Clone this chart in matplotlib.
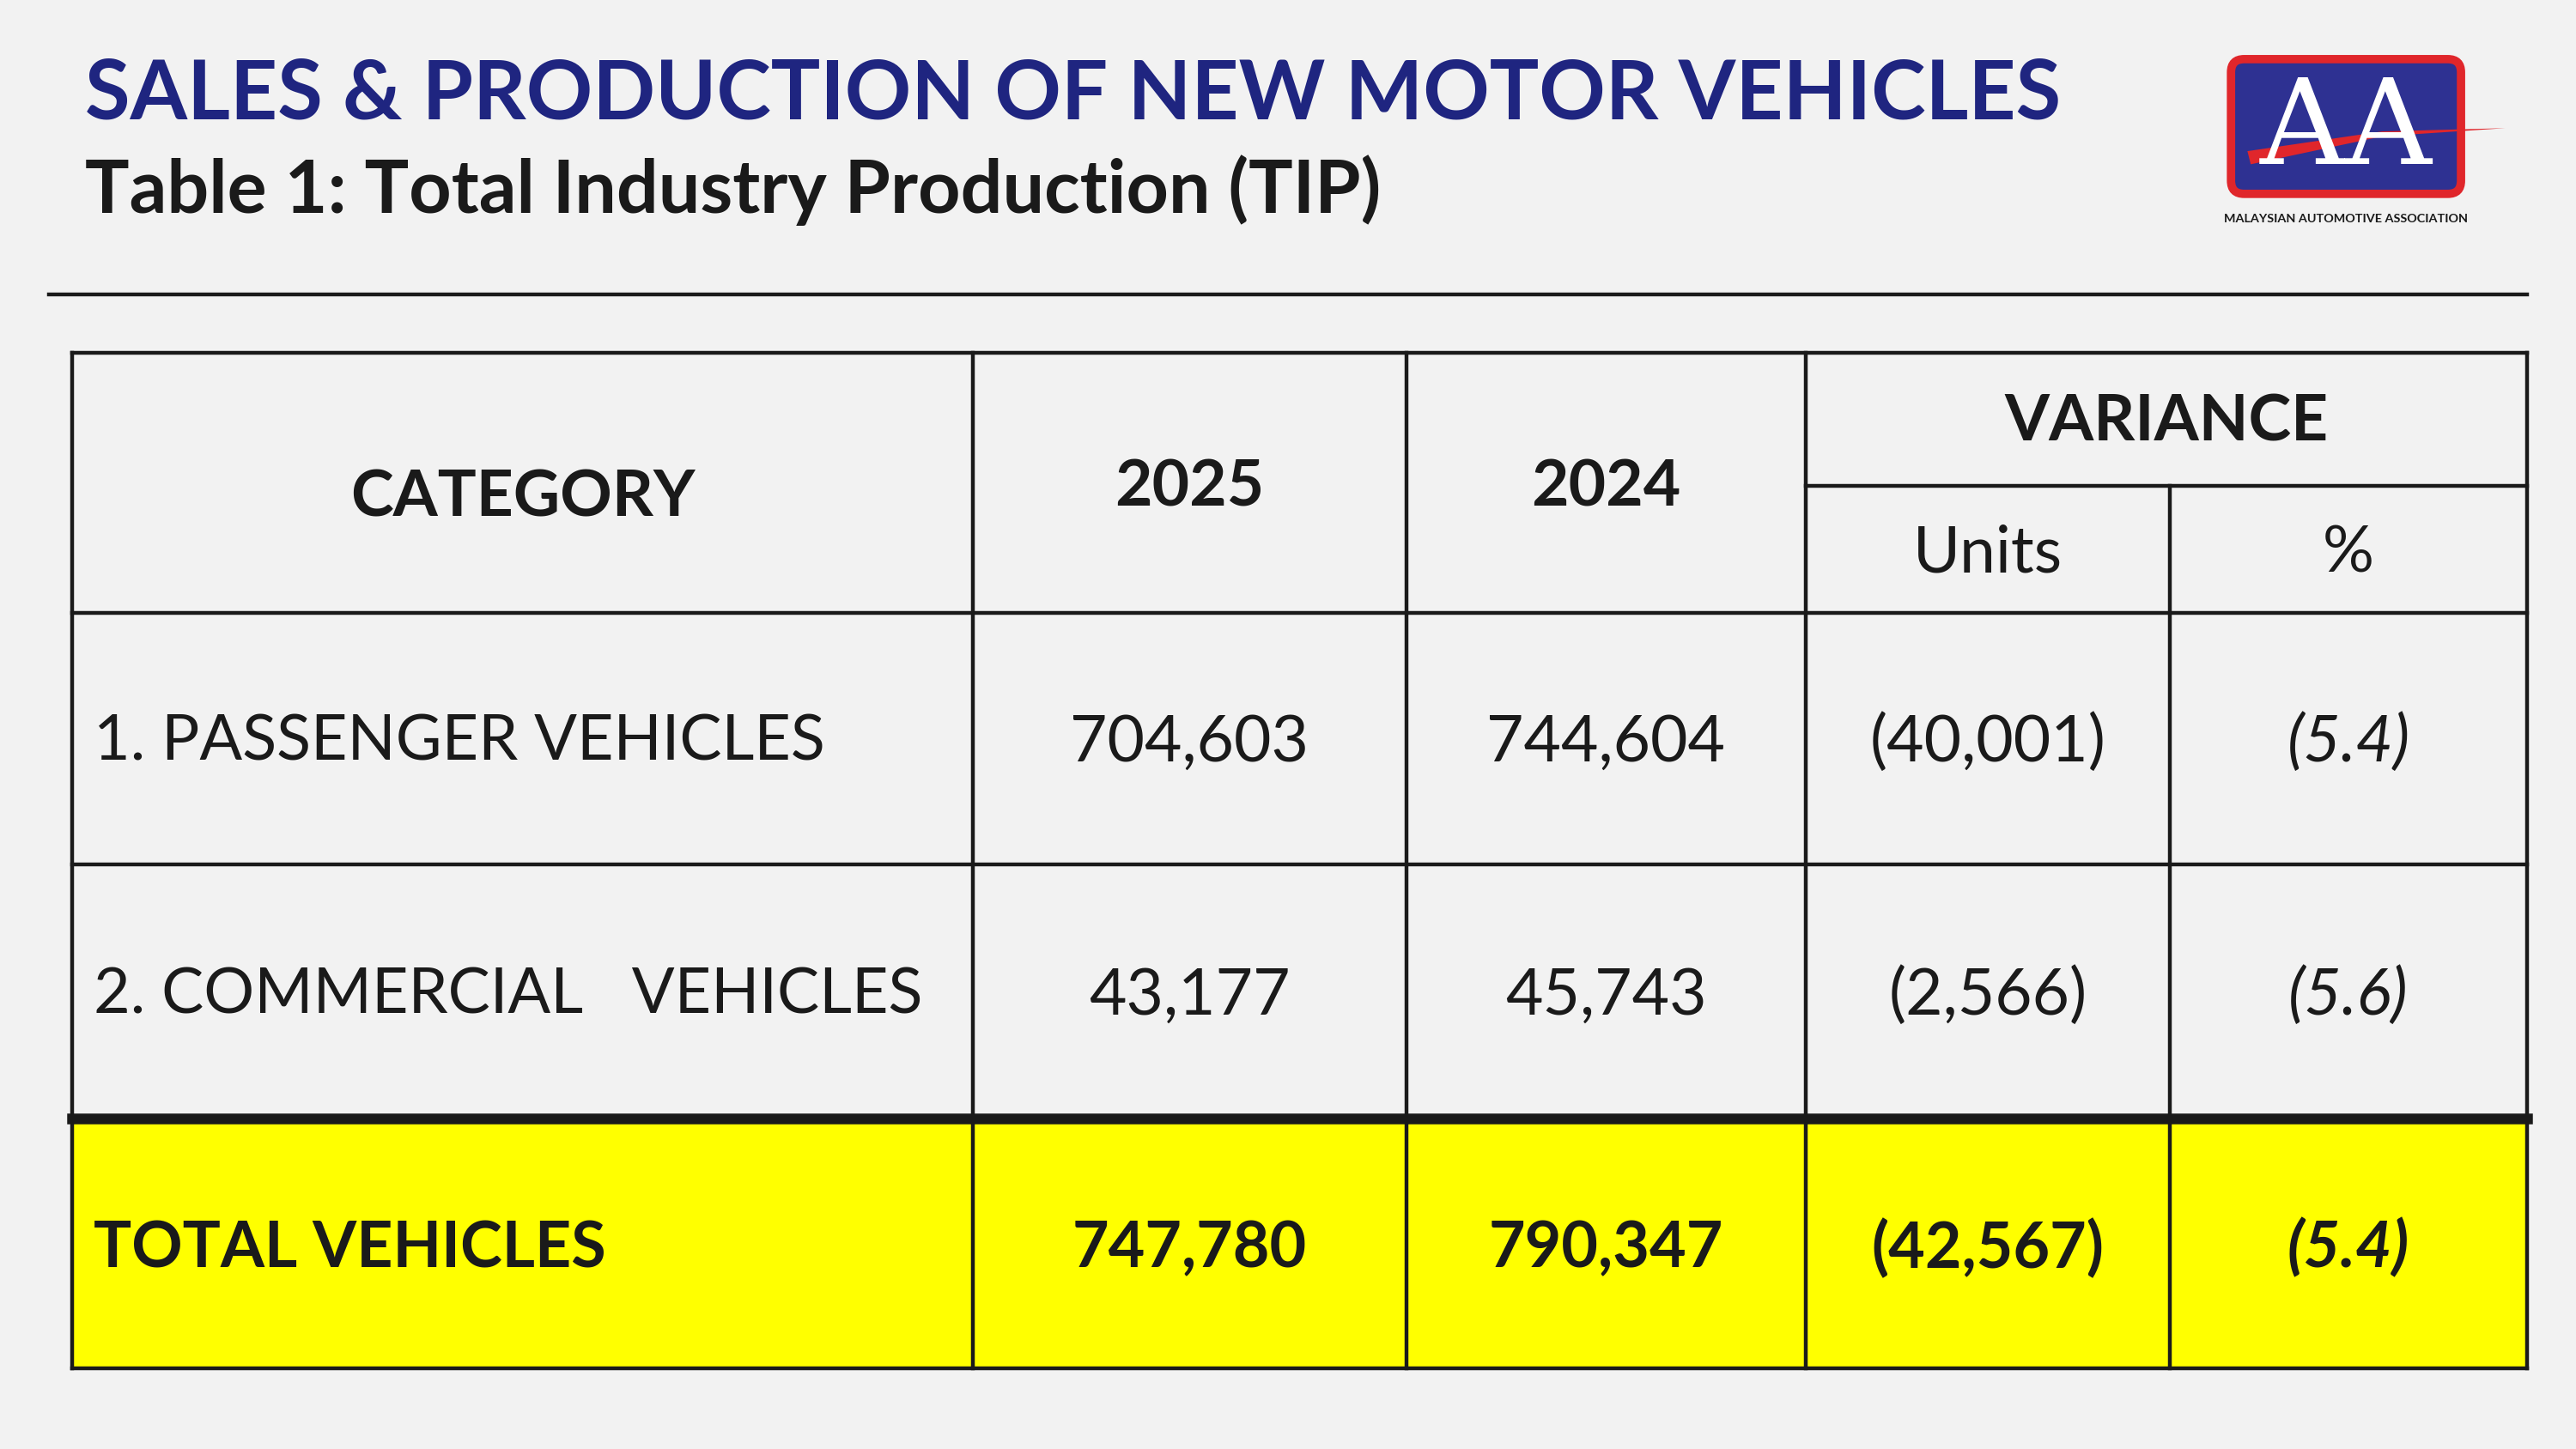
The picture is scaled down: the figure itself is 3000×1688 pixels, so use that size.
import matplotlib.pyplot as plt
from matplotlib.patches import Rectangle, FancyBboxPatch, Polygon

# Data
categories = ['1. PASSENGER VEHICLES', '2. COMMERCIAL   VEHICLES']
total_label = 'TOTAL VEHICLES'
sales_2025 = ['704,603', '43,177']
sales_2024 = ['744,604', '45,743']
var_units = ['(40,001)', '(2,566)']
var_pct = ['(5.4)', '(5.6)']
total_2025 = '747,780'
total_2024 = '790,347'
total_units = '(42,567)'
total_pct = '(5.4)'

navy = '#1f2580'
ink = '#1a1a1a'
plt.rcParams['font.family'] = ['Lato', 'DejaVu Sans']

fig = plt.figure(figsize=(15, 8.44), dpi=200)
fig.patch.set_facecolor('#f2f2f2')
ax = fig.add_axes([0, 0, 1, 1])
ax.set_xlim(0, 1568)
ax.set_ylim(882, 0)
ax.axis('off')

# header
ax.text(52, 58, 'SALES & PRODUCTION OF NEW MOTOR VEHICLES', color=navy,
        fontsize=34.5, fontweight='bold', va='center', ha='left')
ax.text(52, 116, 'Table 1: Total Industry Production (TIP)', color=ink,
        fontsize=31, fontweight='bold', va='center', ha='left')
ax.plot([30, 1538], [179, 179], color=ink, lw=1.6)

# logo
ax.add_patch(FancyBboxPatch((1358, 36), 140, 82, boxstyle='round,pad=0,rounding_size=8',
                            fc='#2e3192', ec='#e0262b', lw=3.5))
ax.text(1428, 80, 'AA', color='white', fontsize=50, family='DejaVu Serif',
        ha='center', va='center')
ax.add_patch(Polygon([[1368, 92], [1450, 80], [1525, 78], [1450, 83], [1370, 100]],
                     fc='#e0262b', ec='none'))
ax.text(1428, 133, 'MALAYSIAN AUTOMOTIVE ASSOCIATION', fontsize=5.2, color=ink,
        ha='center', va='center', fontweight='bold')

# table grid
L, R = 44, 1538
cols = [L, 592, 856, 1099, 1321, R]
top, sub, r1, r2, r3, bot = 215, 296, 373, 526, 681, 833
ax.add_patch(Rectangle((L, r3), R - L, bot - r3, fc='#ffff00', ec='none'))
lw = 1.6
for y in [top, r1, r2, bot]:
    ax.plot([L, R], [y, y], color=ink, lw=lw)
ax.plot([L, R], [r3, r3], color=ink, lw=4.5)
ax.plot([cols[3], R], [sub, sub], color=ink, lw=lw)
for i, x in enumerate(cols):
    y0 = sub if i == 4 else top
    ax.plot([x, x], [y0, bot], color=ink, lw=lw)

cx = [(cols[i] + cols[i + 1]) / 2 for i in range(5)]
hdr = dict(fontsize=27, fontweight='bold', color=ink, ha='center', va='center')
ax.text((L + cols[1]) / 2, 303, 'CATEGORY', **hdr)
ax.text(cx[1], 297, '2025', **hdr)
ax.text(cx[2], 297, '2024', **hdr)
ax.text((cols[3] + R) / 2, 257, 'VARIANCE', **hdr)
ax.text(cx[3], 337, 'Units', fontsize=27, color=ink, ha='center', va='center')
ax.text(cx[4], 337, '%', fontsize=27, color=ink, ha='center', va='center')

rows_y = [452, 606]
for i in range(2):
    y = rows_y[i]
    ax.text(57, y, categories[i], fontsize=26.5, color=ink, ha='left', va='center')
    ax.text(cx[1], y, sales_2025[i], fontsize=27, color=ink, ha='center', va='center')
    ax.text(cx[2], y, sales_2024[i], fontsize=27, color=ink, ha='center', va='center')
    ax.text(cx[3], y, var_units[i], fontsize=27, color=ink, ha='center', va='center')
    ax.text(cx[4], y, var_pct[i], fontsize=27, color=ink, ha='center', va='center',
            style='italic')

yt = 760
b = dict(fontsize=26.5, fontweight='bold', color=ink, va='center')
ax.text(57, yt, total_label, ha='left', **b)
ax.text(cx[1], yt, total_2025, ha='center', **b)
ax.text(cx[2], yt, total_2024, ha='center', **b)
ax.text(cx[3], yt, total_units, ha='center', **b)
ax.text(cx[4], yt, total_pct, ha='center', style='italic', **b)

fig.savefig('out.png', dpi=200, facecolor=fig.get_facecolor())
